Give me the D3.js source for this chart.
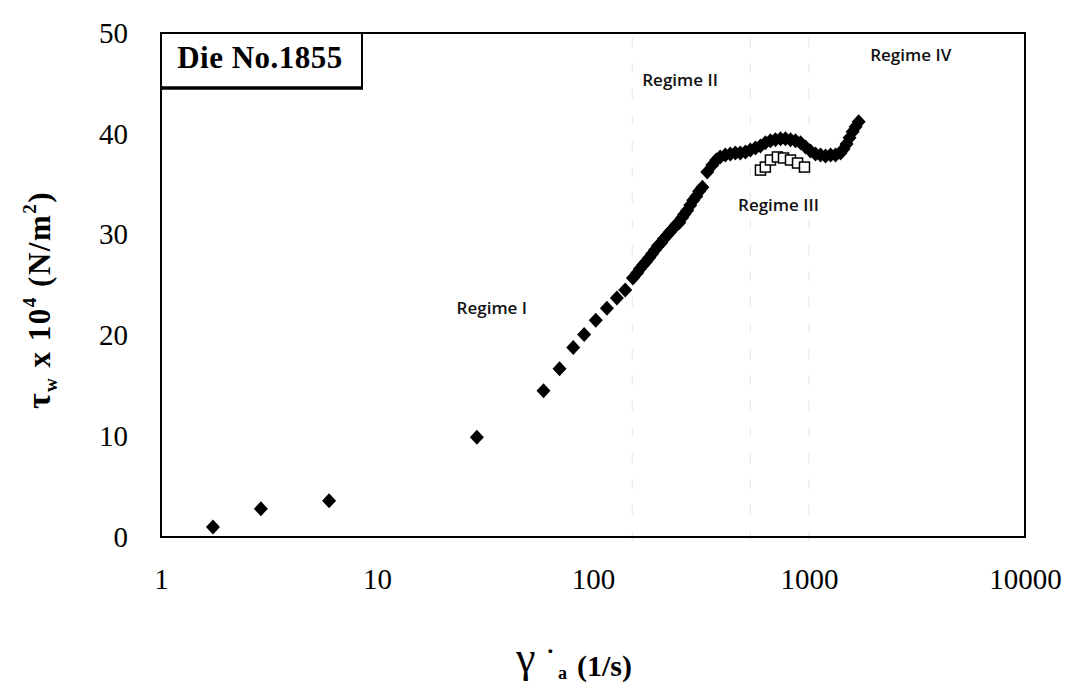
<!DOCTYPE html>
<html>
<head>
<meta charset="utf-8">
<script src="https://cdn.jsdelivr.net/npm/d3@7"></script>
<style>
  body { margin: 0; background: #fff; }
  svg { display: block; }
</style>
</head>
<body>
<svg id="chart" width="1076" height="685"></svg>
<script>
// Apparent shear rate (1/s) and wall shear stress (x 10^4 N/m^2), main flow curve
const shearRate = [
  1.74, 2.9, 6.0, 29, 59, 70, 81, 91, 103, 116, 129, 141,
  153, 160, 165, 171, 176, 182, 188, 194, 200, 207, 213, 220, 228, 235, 243, 251,
  259, 264, 273, 282, 291, 301, 310, 321,
  338, 357, 372, 388, 410, 432, 456, 481, 508, 535, 565, 596, 628, 663, 699, 738,
  778, 821, 866, 914, 964, 1016, 1072, 1131, 1193, 1259, 1327, 1400, 1445, 1493,
  1541, 1592, 1644, 1698
];
const wallStress = [
  1.0, 2.8, 3.6, 9.9, 14.5, 16.7, 18.8, 20.1, 21.5, 22.7, 23.7, 24.5,
  25.7, 26.2, 26.6, 27.0, 27.3, 27.7, 28.1, 28.5, 28.9, 29.2, 29.6, 29.9, 30.3, 30.6, 31.0, 31.2,
  31.7, 32.0, 32.4, 32.9, 33.4, 33.8, 34.3, 34.7,
  36.2, 36.9, 37.4, 37.7, 37.9, 38.0, 38.1, 38.1, 38.2, 38.4, 38.6, 38.8, 39.1, 39.3, 39.4, 39.5,
  39.5, 39.4, 39.3, 39.1, 38.7, 38.3, 38.0, 37.9, 37.8, 37.9, 37.9, 38.1, 38.5, 39.0,
  39.6, 40.2, 40.7, 41.2
];
// Lower branch of the stress oscillation (open squares)
const lowerRate = [596, 628, 663, 714, 762, 821, 885, 953];
const lowerStress = [36.4, 36.7, 37.4, 37.7, 37.6, 37.4, 37.1, 36.7];

const xTicks = [1, 10, 100, 1000, 10000];
const yTicks = [0, 10, 20, 30, 40, 50];
const regimeBounds = [152, 535, 1000];
const regimeNames = ["Regime I", "Regime II", "Regime III", "Regime IV"];
const dieName = "Die No.1855";

// Label anchors in data units (shear rate, stress)
const regimeAnchors = [[34, 22.7], [253, 45.3], [722, 32.9], [2958, 47.8]];

const svg = d3.select("#chart");
const M = { left: 161, right: 1025, top: 33, bottom: 537 };

const x = d3.scaleLog().domain([1, 10000]).range([M.left, M.right]);
const y = d3.scaleLinear().domain([0, 50]).range([M.bottom, M.top]);

// faint regime boundaries
svg.append("g").selectAll("line").data(regimeBounds).join("line")
  .attr("x1", d => x(d)).attr("x2", d => x(d))
  .attr("y1", M.top + 4).attr("y2", M.bottom + 18)
  .attr("stroke", "#e4e4e4").attr("stroke-width", 1)
  .attr("stroke-dasharray", "10,16");

// axes (labels only)
const serif = "'Liberation Serif', 'Times New Roman', serif";
const gx = svg.append("g").attr("transform", `translate(0,${M.bottom})`)
  .call(d3.axisBottom(x).tickValues(xTicks).tickFormat(d3.format("d")).tickSize(0).tickPadding(31));
const gy = svg.append("g").attr("transform", `translate(${M.left},0)`)
  .call(d3.axisLeft(y).tickValues(yTicks).tickSize(0).tickPadding(33));
[gx, gy].forEach(g => {
  g.select(".domain").remove();
  g.selectAll("text").attr("font-family", serif).attr("font-size", 29).attr("fill", "#000");
});

// plot frame
svg.append("rect")
  .attr("x", M.left).attr("y", M.top)
  .attr("width", M.right - M.left).attr("height", M.bottom - M.top)
  .attr("fill", "none").attr("stroke", "#000").attr("stroke-width", 2);

// die label box
const box = svg.append("g");
box.append("path")
  .attr("d", `M362,${M.top} V88`)
  .attr("fill", "none").attr("stroke", "#000").attr("stroke-width", 2);
box.append("line").attr("x1", M.left).attr("x2", 363).attr("y1", 88).attr("y2", 88)
  .attr("stroke", "#000").attr("stroke-width", 3.5);
box.append("text").attr("x", 260).attr("y", 68).attr("text-anchor", "middle")
  .attr("font-family", serif).attr("font-weight", "bold").attr("font-size", 31)
  .attr("letter-spacing", 0.5)
  .text(dieName);

// main curve: filled diamonds
const diamond = "M0,-7.5L7,0L0,7.5L-7,0Z";
svg.append("g").selectAll("path").data(d3.range(shearRate.length)).join("path")
  .attr("d", diamond)
  .attr("transform", i => `translate(${x(shearRate[i])},${y(wallStress[i])})`)
  .attr("fill", "#000");

// lower branch: open squares
svg.append("g").selectAll("rect").data(d3.range(lowerRate.length)).join("rect")
  .attr("x", i => x(lowerRate[i]) - 5).attr("y", i => y(lowerStress[i]) - 5)
  .attr("width", 10).attr("height", 10)
  .attr("fill", "#fff").attr("stroke", "#000").attr("stroke-width", 1.5);

// regime labels
svg.append("g").selectAll("text").data(regimeNames).join("text")
  .attr("x", (d, i) => x(regimeAnchors[i][0]))
  .attr("y", (d, i) => y(regimeAnchors[i][1]))
  .attr("dy", "0.35em").attr("text-anchor", "middle")
  .attr("font-family", "'Open Sans', Lato, sans-serif").attr("font-weight", 600)
  .attr("font-size", 17).attr("fill", "#111")
  .text(d => d);

// x title: apparent shear rate, gamma with dot and subscript a
const xt = svg.append("g").attr("font-family", serif).attr("fill", "#000");
xt.append("text").attr("x", 516).attr("y", 672).attr("font-size", 44).text("γ");
xt.append("text").attr("x", 546).attr("y", 667).attr("font-size", 26).attr("font-weight", "bold").text("˙");
xt.append("text").attr("x", 558).attr("y", 679).attr("font-size", 18).attr("font-weight", "bold").text("a");
xt.append("text").attr("x", 577).attr("y", 676).attr("font-size", 30).attr("font-weight", "bold").text("(1/s)");

// y title: wall shear stress
const yt = svg.append("text").attr("transform", "translate(50,300) rotate(-90)")
  .attr("text-anchor", "middle").attr("font-family", serif).attr("font-weight", "bold")
  .attr("font-size", 31).attr("letter-spacing", 1.5).attr("fill", "#000");
yt.append("tspan").attr("font-size", 34).text("τ");
yt.append("tspan").attr("font-size", 19).attr("dy", 7).text("w");
yt.append("tspan").attr("dy", -7).text(" x 10");
yt.append("tspan").attr("font-size", 19).attr("dy", -14).text("4");
yt.append("tspan").attr("dy", 14).text(" (N/m");
yt.append("tspan").attr("font-size", 19).attr("dy", -14).text("2");
yt.append("tspan").attr("dy", 14).text(")");
</script>
</body>
</html>
